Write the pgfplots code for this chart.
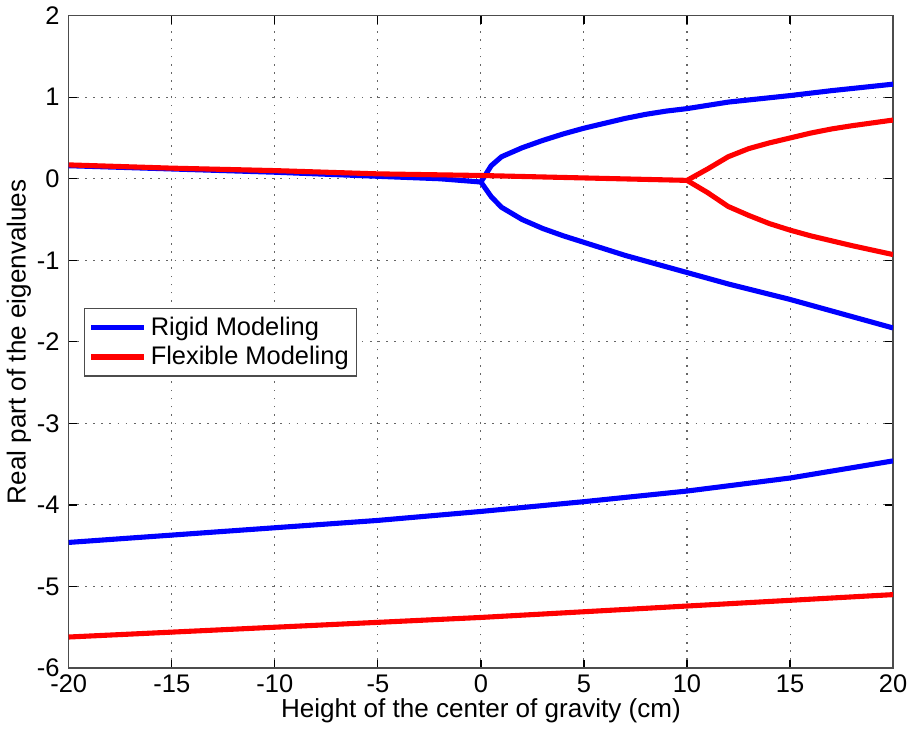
\documentclass[border=0pt]{standalone}
\usepackage{pgfplots}
\pgfplotsset{compat=1.18}
\usepackage{fontspec}
\setmainfont{Liberation Sans}
\begin{document}
\begin{tikzpicture}
\begin{axis}[
  scale only axis,
  width=405pt, height=320.5pt,
  xmin=-20, xmax=20, ymin=-6, ymax=2,
  xtick={-20,-15,...,20}, ytick={-6,-5,...,2},
  grid=major,
  grid style={dash pattern=on 0.8pt off 3.2pt, gray!80!black, line width=0.5pt},
  tick align=inside,
  tick pos=both,
  major tick length=4pt,
  axis line style={gray!60!black, line width=0.6pt},
  tick style={black, line width=0.6pt},
  /pgf/number format/assume math mode=true,
  ticklabel style={font=\fontsize{12.5}{14}\selectfont},
  yticklabel style={xshift=-1pt},
  label style={font=\fontsize{12.8}{14}\selectfont},
  xlabel={Height of the center of gravity (cm)},
  ylabel={Real part of the eigenvalues},
  xlabel style={yshift=4pt},
  ylabel style={yshift=-4pt},
  legend style={at={(0.0185,0.552)}, anchor=north west, draw=gray!60!black,
    font=\fontsize{12.5}{14}\selectfont, inner xsep=2pt, inner ysep=2pt, row sep=0pt,
    line width=0.6pt},
  legend cell align=left,
  legend image code/.code={\draw[#1, line width=2.5pt] (0pt,0pt) -- (26pt,0pt);},
  every axis plot/.append style={line width=2.5pt},
]
\addplot[blue] coordinates {(-20,0.16)(-15,0.12)(-10,0.08)(-5,0.03)(-2,0.0)(0,-0.04)(0.5,0.16)(1,0.27)(2,0.38)(3,0.47)(4,0.55)(5,0.62)(6,0.68)(7,0.74)(8,0.79)(9,0.83)(10,0.86)(12,0.94)(15,1.02)(17,1.08)(20,1.16)};
\addlegendentry{Rigid Modeling}
\addplot[red] coordinates {(-20,0.17)(-15,0.13)(-10,0.10)(-5,0.06)(0,0.04)(5,0.01)(10,-0.02)(11,0.12)(12,0.27)(13,0.37)(14,0.44)(15,0.50)(16,0.56)(17,0.61)(18,0.65)(20,0.72)};
\addlegendentry{Flexible Modeling}
\addplot[blue, forget plot] coordinates {(0,-0.04)(0.5,-0.22)(1,-0.35)(2,-0.50)(3,-0.61)(4,-0.70)(5,-0.78)(6,-0.86)(7,-0.94)(8,-1.01)(9,-1.08)(10,-1.15)(12,-1.29)(15,-1.48)(17,-1.62)(20,-1.83)};
\addplot[red, forget plot] coordinates {(10,-0.02)(11,-0.17)(12,-0.34)(13,-0.45)(14,-0.55)(15,-0.63)(16,-0.70)(17,-0.76)(18,-0.82)(20,-0.93)};
\addplot[blue, forget plot] coordinates {(-20,-4.46)(-15,-4.37)(-10,-4.28)(-5,-4.19)(0,-4.08)(5,-3.96)(10,-3.83)(15,-3.67)(20,-3.46)};
\addplot[red, forget plot] coordinates {(-20,-5.62)(-15,-5.56)(-10,-5.50)(-5,-5.44)(0,-5.38)(5,-5.31)(10,-5.24)(15,-5.17)(20,-5.10)};
\end{axis}
\end{tikzpicture}
\end{document}
